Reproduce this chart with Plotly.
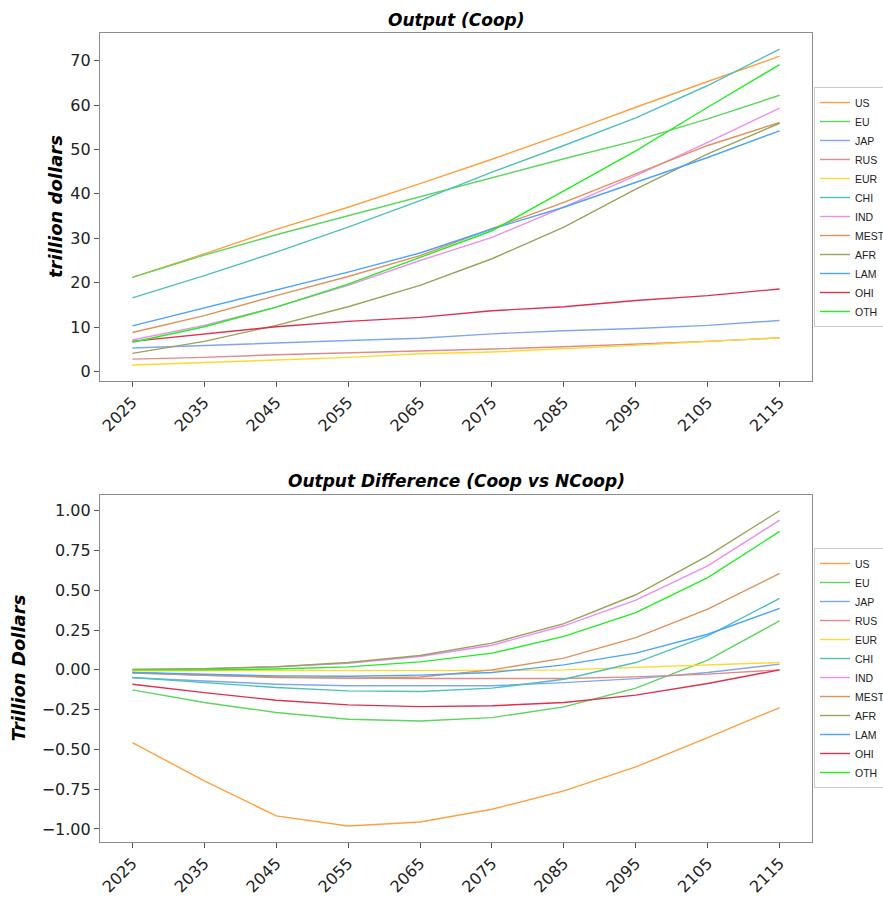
import plotly.graph_objects as go

years = [2025, 2035, 2045, 2055, 2065, 2075, 2085, 2095, 2105, 2115]
regions = ["US", "EU", "JAP", "RUS", "EUR", "CHI", "IND", "MEST", "AFR", "LAM", "OHI", "OTH"]

# Output (Coop), trillion dollars
out_US   = [21.2, 26.5, 32.0, 37.0, 42.3, 47.8, 53.5, 59.5, 65.3, 71.0]
out_EU   = [21.2, 26.2, 30.8, 35.1, 39.4, 43.6, 47.9, 52.0, 56.9, 62.2]
out_JAP  = [5.3, 5.9, 6.4, 7.0, 7.5, 8.5, 9.2, 9.7, 10.4, 11.5]
out_RUS  = [2.8, 3.2, 3.8, 4.2, 4.6, 5.1, 5.6, 6.2, 6.8, 7.6]
out_EUR  = [1.5, 2.0, 2.6, 3.2, 4.0, 4.4, 5.1, 5.9, 6.8, 7.6]
out_CHI  = [16.6, 21.6, 26.9, 32.5, 38.5, 44.9, 50.9, 57.1, 64.4, 72.6]
out_IND  = [7.1, 10.4, 14.5, 19.4, 25.0, 30.2, 37.0, 44.1, 51.6, 59.3]
out_MEST = [8.8, 12.6, 17.1, 21.4, 26.1, 32.2, 38.1, 44.5, 50.9, 56.1]
out_AFR  = [4.1, 6.8, 10.4, 14.6, 19.4, 25.4, 32.5, 41.1, 49.0, 55.9]
out_LAM  = [10.3, 14.3, 18.4, 22.4, 26.7, 32.1, 37.0, 42.6, 48.2, 54.2]
out_OHI  = [6.8, 8.5, 10.1, 11.3, 12.2, 13.7, 14.6, 16.0, 17.1, 18.6]
out_OTH  = [6.6, 10.1, 14.5, 19.7, 25.7, 31.7, 40.7, 49.7, 59.5, 69.1]

# Output difference (Coop vs NCoop), trillion dollars
dif_US   = [-0.457, -0.698, -0.918, -0.981, -0.956, -0.876, -0.761, -0.610, -0.426, -0.237]
dif_EU   = [-0.126, -0.205, -0.268, -0.310, -0.321, -0.300, -0.233, -0.115, 0.061, 0.308]
dif_JAP  = [-0.050, -0.069, -0.090, -0.100, -0.100, -0.100, -0.080, -0.055, -0.017, 0.036]
dif_RUS  = [-0.017, -0.034, -0.044, -0.052, -0.054, -0.054, -0.054, -0.044, -0.027, 0.000]
dif_EUR  = [-0.006, -0.006, -0.006, -0.006, -0.006, -0.003, 0.000, 0.015, 0.027, 0.046]
dif_CHI  = [-0.048, -0.080, -0.111, -0.132, -0.136, -0.115, -0.059, 0.046, 0.214, 0.449]
dif_IND  = [0.003, 0.007, 0.019, 0.042, 0.084, 0.155, 0.277, 0.438, 0.654, 0.941]
dif_MEST = [-0.020, -0.034, -0.048, -0.052, -0.045, 0.000, 0.074, 0.203, 0.382, 0.606]
dif_AFR  = [0.003, 0.007, 0.020, 0.046, 0.090, 0.168, 0.291, 0.472, 0.717, 1.000]
dif_LAM  = [-0.017, -0.028, -0.038, -0.040, -0.033, -0.017, 0.031, 0.105, 0.224, 0.386]
dif_OHI  = [-0.090, -0.143, -0.191, -0.220, -0.231, -0.226, -0.205, -0.159, -0.086, 0.000]
dif_OTH  = [0.000, 0.000, 0.005, 0.019, 0.050, 0.105, 0.210, 0.360, 0.580, 0.870]

out_series = [out_US, out_EU, out_JAP, out_RUS, out_EUR, out_CHI, out_IND, out_MEST, out_AFR, out_LAM, out_OHI, out_OTH]
dif_series = [dif_US, dif_EU, dif_JAP, dif_RUS, dif_EUR, dif_CHI, dif_IND, dif_MEST, dif_AFR, dif_LAM, dif_OHI, dif_OTH]

colors = ["#ffa040", "#5cd65c", "#7fa7f0", "#e08a8a", "#ffd92f", "#4fc1bb",
          "#f08cf0", "#e0915a", "#99a35a", "#4aa3ff", "#e03050", "#22ee22"]

W, H = 883, 899
def px_x(p): return p / W
def px_y(p): return 1 - p / H

xdom = [px_x(100), px_x(812)]
top_dom = [px_y(380.7), px_y(33.3)]
bot_dom = [px_y(841.7), px_y(495)]

fig = go.Figure()
for name, ys, c in zip(regions, out_series, colors):
    fig.add_trace(go.Scatter(x=years, y=ys, mode="lines", name=name,
                             line=dict(color=c, width=1.4),
                             xaxis="x", yaxis="y", legend="legend"))
for name, ys, c in zip(regions, dif_series, colors):
    fig.add_trace(go.Scatter(x=years, y=ys, mode="lines", name=name,
                             line=dict(color=c, width=1.4),
                             xaxis="x2", yaxis="y2", legend="legend2"))

axis_common = dict(showline=True, linecolor="#8c8c8c", linewidth=1.2, mirror=True,
                   ticks="outside", ticklen=5, tickcolor="#555555", tickwidth=1,
                   showgrid=False, zeroline=False, automargin=False,
                   tickfont=dict(family="DejaVu Sans", size=16, color="#222222"))

legend_common = dict(xanchor="left", yanchor="middle",
                     bgcolor="white", bordercolor="#cccccc", borderwidth=1,
                     font=dict(family="Liberation Sans", size=10.5, color="#222222"),
                     itemwidth=30, tracegroupgap=0)

fig.update_layout(
    width=W, height=H,
    margin=dict(l=0, r=0, t=0, b=0, autoexpand=False),
    paper_bgcolor="white", plot_bgcolor="white",
    showlegend=True,
    xaxis=dict(domain=xdom, anchor="y", range=[2020.5, 2119.5], tickvals=years,
               ticktext=[str(y) for y in years], tickangle=-45, **axis_common),
    yaxis=dict(domain=top_dom, anchor="x", range=[-2.05, 76.15],
               tickvals=[0, 10, 20, 30, 40, 50, 60, 70], **axis_common),
    xaxis2=dict(domain=xdom, anchor="y2", range=[2020.5, 2119.5], tickvals=years,
                ticktext=[str(y) for y in years], tickangle=-45, **axis_common),
    yaxis2=dict(domain=bot_dom, anchor="x2", range=[-1.08, 1.099],
                tickvals=[-1.0, -0.75, -0.5, -0.25, 0.0, 0.25, 0.5, 0.75, 1.0],
                ticktext=["\u22121.00", "\u22120.75", "\u22120.50", "\u22120.25", "0.00",
                          "0.25", "0.50", "0.75", "1.00"], **axis_common),
    legend=dict(x=px_x(814), y=px_y(207), **legend_common),
    legend2=dict(x=px_x(814), y=px_y(668), **legend_common),
    annotations=[
        dict(text="<b><i>Output (Coop)</i></b>", x=(xdom[0] + xdom[1]) / 2, y=px_y(20),
             xref="paper", yref="paper", xanchor="center", yanchor="middle", showarrow=False,
             font=dict(family="DejaVu Sans", size=17, color="black")),
        dict(text="<b><i>Output Difference (Coop vs NCoop)</i></b>", x=(xdom[0] + xdom[1]) / 2,
             y=px_y(481), xref="paper", yref="paper", xanchor="center", yanchor="middle",
             showarrow=False, font=dict(family="DejaVu Sans", size=17, color="black")),
        dict(text="<b><i>trillion dollars</i></b>", x=px_x(55), y=(top_dom[0] + top_dom[1]) / 2,
             xref="paper", yref="paper", xanchor="center", yanchor="middle", textangle=-90,
             showarrow=False, font=dict(family="DejaVu Sans", size=18, color="black")),
        dict(text="<b><i>Trillion Dollars</i></b>", x=px_x(18), y=(bot_dom[0] + bot_dom[1]) / 2,
             xref="paper", yref="paper", xanchor="center", yanchor="middle", textangle=-90,
             showarrow=False, font=dict(family="DejaVu Sans", size=18, color="black")),
    ],
)

fig.write_html("out.html", config={"displayModeBar": False},
               post_script="document.body.style.margin='0';document.body.style.overflow='hidden';")
